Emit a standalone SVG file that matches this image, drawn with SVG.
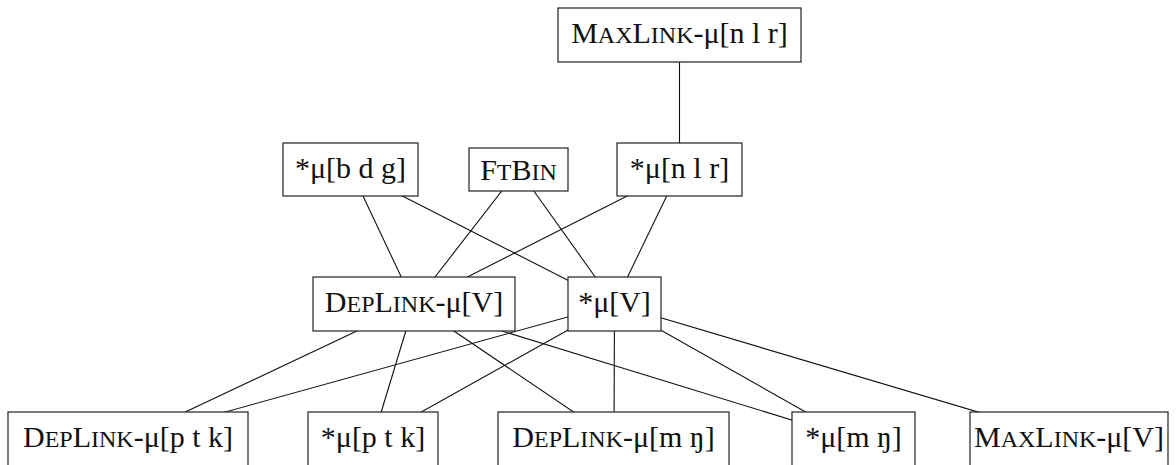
<svg xmlns="http://www.w3.org/2000/svg" width="1176" height="465" viewBox="0 0 1176 465">
<style>
.box{fill:#fff;stroke:#222;stroke-width:1.2}
.lbl{font-family:"Liberation Serif","DejaVu Serif",serif;font-size:30px;fill:#111;text-anchor:middle}
.sc{font-variant:small-caps;font-size:34px}
.edge line{stroke:#111;stroke-width:1.1}
</style>
<rect width="1176" height="465" fill="#fff"/>
<g id="connectors" class="edge">
<line x1="679.5" y1="35" x2="679.5" y2="169.5"/>
<line x1="350.5" y1="169.5" x2="414" y2="304"/>
<line x1="350.5" y1="169.5" x2="614.5" y2="304"/>
<line x1="518.5" y1="169.5" x2="414" y2="304"/>
<line x1="518.5" y1="169.5" x2="614.5" y2="304"/>
<line x1="679.5" y1="169.5" x2="414" y2="304"/>
<line x1="679.5" y1="169.5" x2="614.5" y2="304"/>
<line x1="414" y1="304" x2="128" y2="439"/>
<line x1="414" y1="304" x2="373" y2="439"/>
<line x1="414" y1="304" x2="613.5" y2="439"/>
<line x1="414" y1="304" x2="853.5" y2="439"/>
<line x1="614.5" y1="304" x2="128" y2="439"/>
<line x1="614.5" y1="304" x2="373" y2="439"/>
<line x1="614.5" y1="304" x2="614" y2="439"/>
<line x1="614.5" y1="304" x2="853.5" y2="439"/>
<line x1="614.5" y1="304" x2="1069" y2="439"/>
</g>
<g id="maxlink-nlr"><rect class="box" x="558" y="8" width="243" height="54"/><text class="lbl" x="679.5" y="43">M<tspan class="sc">ax</tspan>L<tspan class="sc">ink</tspan>-μ[n l r]</text></g>
<g id="star-bdg"><rect class="box" x="283" y="143" width="135" height="53"/><text class="lbl" x="350.5" y="177.5">*μ[b d g]</text></g>
<g id="ftbin"><rect class="box" x="469" y="148" width="99" height="43"/><text class="lbl" x="518.5" y="179.5">F<tspan class="sc">t</tspan>B<tspan class="sc">in</tspan></text></g>
<g id="star-nlr"><rect class="box" x="617" y="143" width="125" height="53"/><text class="lbl" x="679.5" y="177.5">*μ[n l r]</text></g>
<g id="deplink-v"><rect class="box" x="313" y="277" width="202" height="54"/><text class="lbl" x="414" y="312">D<tspan class="sc">ep</tspan>L<tspan class="sc">ink</tspan>-μ[V]</text></g>
<g id="star-v"><rect class="box" x="568" y="277" width="93" height="54"/><text class="lbl" x="614.5" y="312">*μ[V]</text></g>
<g id="deplink-ptk"><rect class="box" x="8" y="412" width="240" height="60"/><text class="lbl" x="128" y="447">D<tspan class="sc">ep</tspan>L<tspan class="sc">ink</tspan>-μ[p t k]</text></g>
<g id="star-ptk"><rect class="box" x="308" y="412" width="130" height="60"/><text class="lbl" x="373" y="447">*μ[p t k]</text></g>
<g id="deplink-mng"><rect class="box" x="498" y="412" width="231" height="60"/><text class="lbl" x="613.5" y="447">D<tspan class="sc">ep</tspan>L<tspan class="sc">ink</tspan>-μ[m ŋ]</text></g>
<g id="star-mng"><rect class="box" x="792" y="412" width="123" height="60"/><text class="lbl" x="853.5" y="447">*μ[m ŋ]</text></g>
<g id="maxlink-v"><rect class="box" x="970" y="412" width="198" height="60"/><text class="lbl" x="1069" y="447">M<tspan class="sc">ax</tspan>L<tspan class="sc">ink</tspan>-μ[V]</text></g>
</svg>
